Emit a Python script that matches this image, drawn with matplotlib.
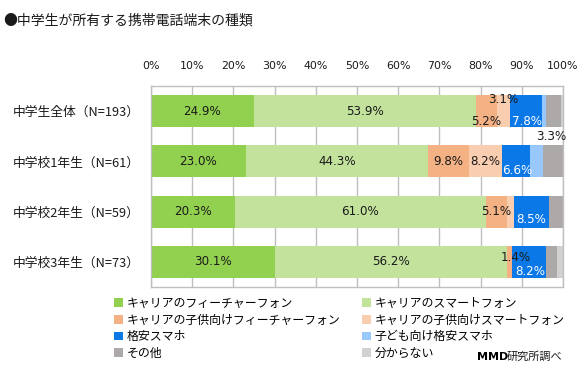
import matplotlib
matplotlib.use("Agg")
import matplotlib.pyplot as plt
from matplotlib.patches import Patch
import numpy as np

plt.rcParams['font.family'] = ['Noto Sans CJK JP', 'DejaVu Sans']
NUM_FONT = ['DejaVu Sans', 'Noto Sans CJK JP']

# ---------------- data ----------------
title = "●中学生が所有する携帯電話端末の種類"
groups = ["中学生全体（N=193）", "中学校1年生（N=61）", "中学校2年生（N=59）", "中学校3年生（N=73）"]
series = ["キャリアのフィーチャーフォン", "キャリアのスマートフォン",
          "キャリアの子供向けフィーチャーフォン", "キャリアの子供向けスマートフォン",
          "格安スマホ", "子ども向け格安スマホ", "その他", "分からない"]
feature_phone   = [24.9, 23.0, 20.3, 30.1]
smartphone      = [53.9, 44.3, 61.0, 56.2]
kids_feature    = [5.2, 9.8, 5.1, 1.4]
kids_smart      = [3.1, 8.2, 1.7, 0.0]
mvno_smart      = [7.8, 6.6, 8.5, 8.2]
kids_mvno       = [1.0, 3.3, 0.0, 0.0]
other           = [3.6, 4.9, 3.4, 2.7]
unknown         = [0.5, 0.0, 0.0, 1.4]
xticks = [0, 10, 20, 30, 40, 50, 60, 70, 80, 90, 100]
source = "研究所調べ"

values = [feature_phone, smartphone, kids_feature, kids_smart,
          mvno_smart, kids_mvno, other, unknown]

# ---------------- style ----------------
colors = ["#92D050", "#C3E39D", "#F4B183", "#F8CDB0",
          "#0B78E8", "#99C8FC", "#ADA9A9", "#D2D0D0"]
text_colors = ["#1a1a1a", "#1a1a1a", "#1a1a1a", "#1a1a1a",
               "white", "#1a1a1a", "#1a1a1a", "#1a1a1a"]
# labelled segments: (row, series index) -> pixel offset (dx, dy) (dy positive = down)
label_offsets = {
    (0, 0): (0, 0), (0, 1): (0, 0), (0, 2): (0, 10), (0, 3): (0, -12), (0, 4): (1, 10),
    (1, 0): (0, 0), (1, 1): (0, 0), (1, 2): (0, 0), (1, 3): (0, 0), (1, 4): (1, 9), (1, 5): (15, -25),
    (2, 0): (0, 0), (2, 1): (0, 0), (2, 2): (0, 0), (2, 4): (0, 8),
    (3, 0): (0, 0), (3, 1): (0, 0), (3, 2): (6, -4), (3, 4): (1, 10),
}

W, H = 586, 368
fig = plt.figure(figsize=(W / 100, H / 100), dpi=100)
ax = fig.add_axes([151 / W, 1 - 287 / H, (563 - 151) / W, (287 - 86) / H])

y = np.arange(len(groups))
left = np.zeros(len(groups))
bar_h = 0.64
for i, (vals, c) in enumerate(zip(values, colors)):
    vals = np.array(vals)
    ax.barh(y, vals, left=left, height=bar_h, color=c, edgecolor='none', zorder=2,
            label=series[i])
    for r in range(len(groups)):
        if (r, i) in label_offsets:
            dx, dy = label_offsets[(r, i)]
            ax.annotate(f"{vals[r]:.1f}%", (left[r] + vals[r] / 2, y[r]),
                        xytext=(dx, -dy), textcoords='offset pixels',
                        ha='center', va='center', fontsize=8.6, family=NUM_FONT,
                        color=text_colors[i], zorder=4)
    left += vals

ax.set_xlim(0, 100)
ax.set_ylim(len(groups) - 0.5, -0.5)
ax.set_xticks(xticks)
ax.set_xticklabels([f"{t}%" for t in xticks], fontsize=7.9, family=NUM_FONT)
ax.xaxis.tick_top()
ax.tick_params(axis='x', length=0, pad=11, colors='#1a1a1a')
ax.grid(axis='x', color='#BFBFBF', linewidth=1, zorder=1)
for s in ax.spines.values():
    s.set_color('#BFBFBF')
    s.set_linewidth(1)

ax.set_yticks(y)
ax.set_yticklabels(groups, fontsize=9.2)
ax.tick_params(axis='y', length=0, pad=(151 - 13) * 0.72, colors='#1a1a1a')
for lab in ax.get_yticklabels():
    lab.set_ha('left')

fig.text(3 / W, 1 - 21 / H, title, fontsize=10, va='center', ha='left', color='#1a1a1a')

# legend (row-major order in two columns)
handles = [Patch(facecolor=c, edgecolor='none') for c in colors]
order = [0, 2, 4, 6, 1, 3, 5, 7]
leg = fig.legend([handles[k] for k in order], [series[k] for k in order],
                 ncol=2, loc='upper left', bbox_to_anchor=(114 / W, 1 - 297 / H),
                 frameon=False, fontsize=8.6, handlelength=0.75, handleheight=0.75,
                 handletextpad=0.3, labelspacing=0.3, columnspacing=1.8,
                 borderpad=0, borderaxespad=0)

fig.text(477 / W, 1 - 357 / H, "MMD", fontsize=8, fontweight='bold', va='center',
         ha='left', color='black', family=NUM_FONT)
fig.text(507 / W, 1 - 357 / H, source, fontsize=8, va='center', ha='left', color='#1a1a1a')

fig.savefig("out.png", dpi=100)
